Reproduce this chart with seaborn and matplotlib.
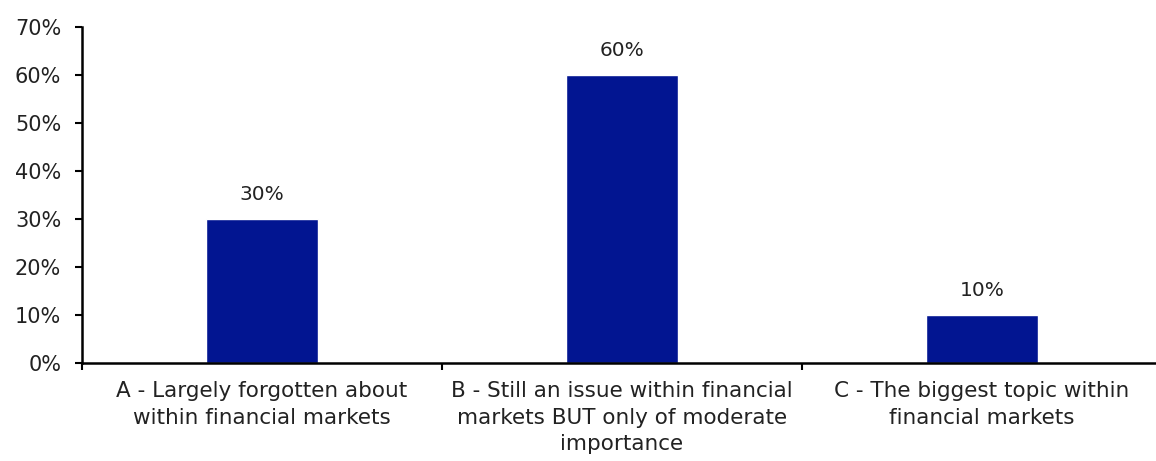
import matplotlib
matplotlib.use("Agg")
import matplotlib.pyplot as plt
import seaborn as sns
import pandas as pd
from matplotlib.ticker import FixedLocator, PercentFormatter

categories = [
    "A - Largely forgotten about\nwithin financial markets",
    "B - Still an issue within financial\nmarkets BUT only of moderate\nimportance",
    "C - The biggest topic within\nfinancial markets",
]
values = [30, 60, 10]
value_labels = ["30%", "60%", "10%"]
yticks = [0, 10, 20, 30, 40, 50, 60, 70]

sns.set_theme(style="white")
plt.rcParams['font.family'] = ['DejaVu Sans']

df = pd.DataFrame({"cat": categories, "val": values})

fig = plt.figure(figsize=(11.56, 4.61), dpi=100)
ax = fig.add_axes([0.0709, 0.2126, 0.9343, 0.7288])

sns.barplot(data=df, x="cat", y="val", color="#021591", saturation=1,
            width=0.31, ax=ax)

ax.bar_label(ax.containers[0], labels=value_labels, padding=11,
             fontsize=14.5, color="#222222")

ax.set_ylim(0, 70)
ax.set_xlim(-0.5, 2.5)
ax.set_yticks(yticks)
ax.yaxis.set_major_formatter(PercentFormatter(decimals=0))
ax.set_xlabel("")
ax.set_ylabel("")

ax.xaxis.set_minor_locator(FixedLocator([-0.5, 0.5, 1.5, 2.5]))
ax.tick_params(axis="x", which="major", length=0, labelsize=15.5,
               labelcolor="#222222", pad=13)
ax.tick_params(axis="x", which="minor", length=5, width=1.5, color="black",
               direction="out", bottom=True)
ax.tick_params(axis="y", length=5, width=1.5, color="black", direction="out",
               left=True, labelsize=15, labelcolor="#222222", pad=10)
for lab in ax.get_xticklabels():
    lab.set_linespacing(1.42)
    lab.set_ha("center")

for s in ["top", "right"]:
    ax.spines[s].set_visible(False)
for s in ["left", "bottom"]:
    ax.spines[s].set_color("black")
    ax.spines[s].set_linewidth(1.8)

fig.savefig("out.png", dpi=100)
